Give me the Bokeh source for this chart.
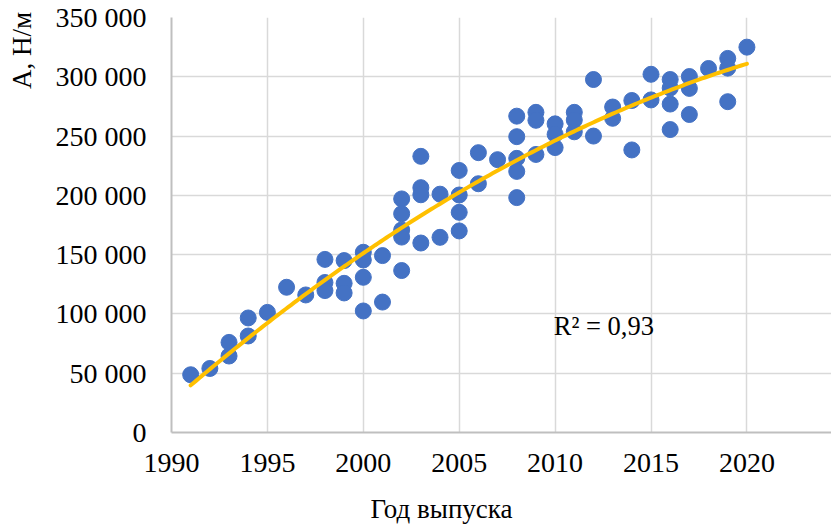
import numpy as np
from bokeh.plotting import figure
from bokeh.models import FixedTicker, Label, Range1d
from bokeh.embed import file_html
from bokeh.resources import INLINE

# Data
years = [1991, 1992, 1993, 1993, 1994, 1994, 1995, 1996, 1997,
         1998, 1998, 1998, 1999, 1999, 1999,
         2000, 2000, 2000, 2000, 2001, 2001,
         2002, 2002, 2002, 2002, 2002,
         2003, 2003, 2003, 2003, 2004, 2004,
         2005, 2005, 2005, 2005, 2006, 2006, 2007,
         2008, 2008, 2008, 2008, 2008,
         2009, 2009, 2009, 2010, 2010, 2010,
         2011, 2011, 2011, 2012, 2012, 2013, 2013,
         2014, 2014, 2015, 2015,
         2016, 2016, 2016, 2016, 2017, 2017, 2017,
         2018, 2019, 2019, 2019, 2020]
values = [48700, 54000, 76000, 64500, 96600, 81400, 101300, 122500, 116000,
          146000, 126500, 119700, 145000, 125800, 117700,
          152000, 145500, 130900, 102500, 149200, 110000,
          197000, 184500, 170800, 164800, 136600,
          232900, 206500, 200500, 159800, 201000, 164600,
          221000, 200300, 185700, 170000, 236000, 209800, 230100,
          266800, 249500, 231200, 220200, 198100,
          270000, 263300, 234500, 260300, 251500, 240300,
          270000, 263500, 253600, 297700, 250000, 274500, 265000,
          280000, 238300, 302100, 280500,
          297700, 290500, 277000, 255500, 300200, 290200, 268200,
          307000, 315500, 307300, 279000, 325000]

x_ticks = [1990, 1995, 2000, 2005, 2010, 2015, 2020]
y_ticks = [0, 50000, 100000, 150000, 200000, 250000, 300000, 350000]
y_tick_labels = ["0", "50 000", "100 000", "150 000", "200 000",
                 "250 000", "300 000", "350 000"]
x_title = "Год выпуска"
y_title = "A, Н/м"
r2_text = "R² = 0,93"

FONT = "Liberation Serif"

p = figure(width=831, height=524, output_backend="svg", toolbar_location=None,
           x_range=Range1d(1990, 2024.41), y_range=Range1d(0, 350000),
           min_border_left=171, min_border_right=0, min_border_top=17,
           min_border_bottom=92)
p.outline_line_color = None
p.background_fill_color = "white"
p.border_fill_color = "white"

# grids
p.xgrid.ticker = FixedTicker(ticks=x_ticks)
p.ygrid.ticker = FixedTicker(ticks=y_ticks)
for g in (p.xgrid, p.ygrid):
    g.grid_line_color = "#D9D9D9"
    g.grid_line_width = 1.5

# axes
p.xaxis.ticker = FixedTicker(ticks=x_ticks)
p.yaxis.ticker = FixedTicker(ticks=y_ticks)
p.yaxis.major_label_overrides = {t: l for t, l in zip(y_ticks, y_tick_labels)}
for ax in (p.xaxis, p.yaxis):
    ax.axis_line_color = "#BFBFBF"
    ax.axis_line_width = 2
    ax.major_tick_line_color = None
    ax.minor_tick_line_color = None
    ax.major_tick_out = 0
    ax.major_tick_in = 0
    ax.major_label_text_font = FONT
    ax.major_label_text_font_size = "28px"
    ax.major_label_text_color = "#000000"
p.yaxis.major_label_standoff = 25
p.xaxis.major_label_standoff = 21

# axis titles: labels placed in the side panels so they are not clipped
p.add_layout(Label(x=2004.08, y=-64100, text=x_title, text_font=FONT,
                   text_font_size="27px", text_align="center",
                   text_baseline="middle", text_color="#000000"), "below")
p.add_layout(Label(x=1982.23, y=322200, text=y_title, text_font=FONT,
                   text_font_size="27px", text_align="center",
                   text_baseline="middle", angle=np.pi / 2,
                   text_color="#000000"), "left")

# scatter points
p.scatter(years, values, size=16, color="#4472C4", line_color="#4472C4")

# polynomial trend line (2nd order) fitted to the data
coef = np.polyfit(years, values, 2)
tx = np.linspace(min(years), max(years), 200)
ty = np.polyval(coef, tx)
p.line(tx, ty, line_color="#FFC000", line_width=4, line_cap="round")

# R² label
p.add_layout(Label(x=2012.54, y=90100, text=r2_text, text_font=FONT,
                   text_font_size="26.5px", text_align="center",
                   text_baseline="middle", text_color="#000000"))

open("out.html", "w").write(file_html(p, INLINE))
